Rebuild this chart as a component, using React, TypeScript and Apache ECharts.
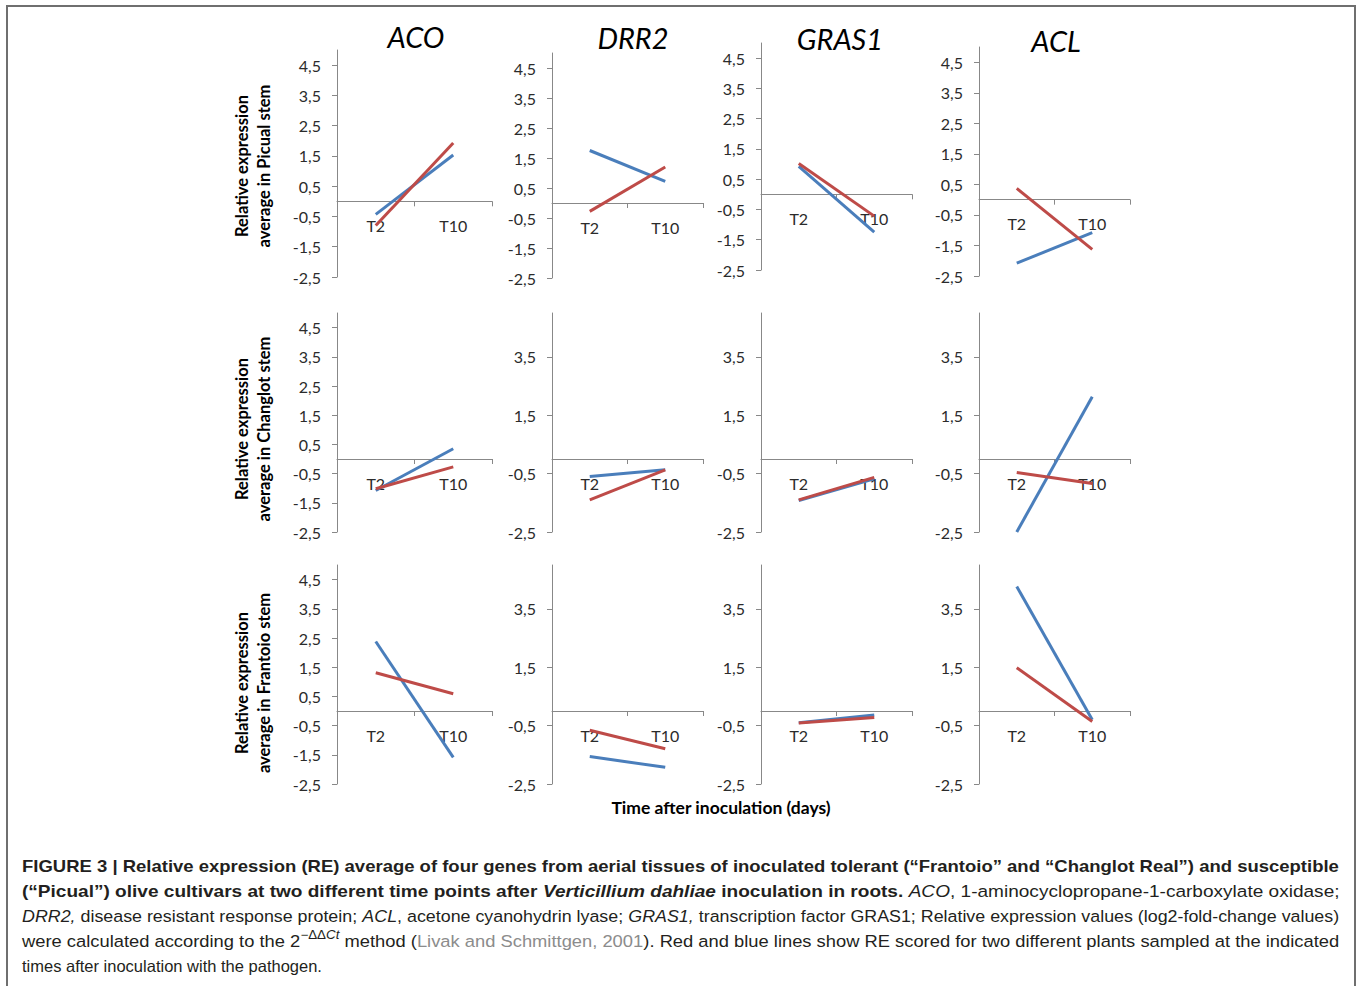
import React, { useEffect, useRef } from 'react';
import * as echarts from 'echarts';

// ---------- data ----------
const categories = ['T2', 'T10'];
const genes = ['ACO', 'DRR2', 'GRAS1', 'ACL'];
const cultivars = ['Picual', 'Changlot', 'Frantoio'];

// values [gene][T2, T10]
const bluePicual = [[-0.43, 1.53], [1.75, 0.72], [0.92, -1.25], [-2.08, -1.08]];
const redPicual = [[-0.8, 1.93], [-0.28, 1.2], [1.02, -0.72], [0.37, -1.63]];
const blueChanglot = [[-1.08, 0.35], [-0.6, -0.37], [-1.42, -0.68], [-2.5, 2.13]];
const redChanglot = [[-1.02, -0.27], [-1.4, -0.37], [-1.4, -0.63], [-0.46, -0.84]];
const blueFrantoio = [[2.38, -1.59], [-1.56, -1.93], [-0.4, -0.14], [4.26, -0.3]];
const redFrantoio = [[1.31, 0.59], [-0.66, -1.29], [-0.41, -0.22], [1.48, -0.36]];

const fineTicks = [-2.5, -1.5, -0.5, 0.5, 1.5, 2.5, 3.5, 4.5];
const coarseTicks = [-2.5, -0.5, 1.5, 3.5];
const yMin = -2.5;
const yMax = 5;

const xTitle = 'Time after inoculation (days)';
const yTitleLine1 = 'Relative expression';

// caption lines: [style, text]
const captionLines: [string, string][][] = [
  [['b', 'FIGURE 3 | Relative expression (RE) average of four genes from aerial tissues of inoculated tolerant (“Frantoio” and “Changlot Real”) and susceptible']],
  [
    ['b', '(“Picual”) olive cultivars at two different time points after '],
    ['bi', 'Verticillium dahliae'],
    ['b', ' inoculation in roots.'],
    ['n', ' '],
    ['i', 'ACO'],
    ['n', ', 1-aminocyclopropane-1-carboxylate oxidase;'],
  ],
  [
    ['i', 'DRR2,'],
    ['n', ' disease resistant response protein; '],
    ['i', 'ACL'],
    ['n', ', acetone cyanohydrin lyase; '],
    ['i', 'GRAS1,'],
    ['n', ' transcription factor GRAS1; Relative expression values (log2-fold-change values)'],
  ],
  [
    ['n', 'were calculated according to the 2'],
    ['sup', '−ΔΔ'],
    ['supi', 'Ct'],
    ['n', ' method ('],
    ['g', 'Livak and Schmittgen, 2001'],
    ['n', '). Red and blue lines show RE scored for two different plants sampled at the indicated'],
  ],
  [['n', 'times after inoculation with the pathogen.']],
];

// ---------- layout ----------
const colLeft = [337, 552, 761, 979];
const colRight = [492, 703, 912, 1130];
const rowTops = [[50, 53, 43, 47], [313, 313, 313, 313], [565, 565, 565, 565]];
const rowBottoms = [[277, 278, 270, 276], [532, 532, 532, 532], [784, 784, 784, 784]];
const titlePos = [[416, 36], [633, 37], [840, 38], [1056, 40]];
const yTitleCenterY = [166, 429, 683];

const BLUE = '#4A7EBB';
const RED = '#BE4B48';
const AXIS = '#888888';
const LABEL = '#2b2b2b';
const CHART_FONT = 'Lato, "Open Sans", sans-serif';
const CAP_FONT = '"Liberation Sans", Arial, sans-serif';
const CAP_SIZE = 16.5;

const capStyles: Record<string, any> = {
  n: { fontSize: CAP_SIZE, fontWeight: 'normal', fontStyle: 'normal', fill: '#231f20' },
  b: { fontSize: CAP_SIZE, fontWeight: 'bold', fontStyle: 'normal', fill: '#231f20' },
  bi: { fontSize: CAP_SIZE, fontWeight: 'bold', fontStyle: 'italic', fill: '#231f20' },
  i: { fontSize: CAP_SIZE, fontWeight: 'normal', fontStyle: 'italic', fill: '#231f20' },
  g: { fontSize: CAP_SIZE, fontWeight: 'normal', fontStyle: 'normal', fill: '#8c8c8c' },
  sup: { fontSize: 12, fontWeight: 'normal', fontStyle: 'normal', fill: '#231f20' },
  supi: { fontSize: 12, fontWeight: 'normal', fontStyle: 'italic', fill: '#231f20' },
};

function measureLine(segs: [string, string][]): number {
  const ctx = document.createElement('canvas').getContext('2d');
  if (!ctx) return 1300;
  let w = 0;
  for (const [s, t] of segs) {
    const st = capStyles[s];
    ctx.font = `${st.fontStyle} ${st.fontWeight} ${st.fontSize}px ${CAP_FONT}`;
    w += ctx.measureText(t).width;
  }
  return w;
}

function fmt(v: number) {
  return String(v).replace('.', ',');
}

function buildOption() {
  const grid: any[] = [];
  const xAxis: any[] = [];
  const yAxis: any[] = [];
  const series: any[] = [];
  const blues = [bluePicual, blueChanglot, blueFrantoio];
  const reds = [redPicual, redChanglot, redFrantoio];

  for (let r = 0; r < 3; r++) {
    for (let c = 0; c < 4; c++) {
      const idx = r * 4 + c;
      const h = rowBottoms[r][c] - rowTops[r][c];
      // pixel distance from the grid bottom up to value 0
      const zeroOffset = (h * (0 - yMin)) / (yMax - yMin);
      grid.push({
        left: colLeft[c],
        top: rowTops[r][c],
        width: colRight[c] - colLeft[c],
        height: h,
        containLabel: false,
      });
      xAxis.push({
        type: 'category',
        gridIndex: idx,
        data: categories,
        boundaryGap: true,
        position: 'bottom',
        offset: -zeroOffset,
        axisLine: { show: true, onZero: false, lineStyle: { color: AXIS, width: 1 } },
        axisTick: { show: true, alignWithLabel: false, interval: 0, length: 5, lineStyle: { color: AXIS } },
        axisLabel: { interval: 0, margin: 16, fontSize: 16, color: LABEL, fontFamily: CHART_FONT },
        splitLine: { show: false },
      });
      const ticks = r === 0 || c === 0 ? fineTicks : coarseTicks;
      yAxis.push({
        type: 'value',
        gridIndex: idx,
        min: yMin,
        max: yMax,
        axisLine: { show: true, lineStyle: { color: AXIS, width: 1 } },
        axisTick: { show: true, length: 5, customValues: ticks, lineStyle: { color: AXIS } },
        axisLabel: {
          customValues: ticks,
          margin: 16,
          fontSize: 16,
          color: LABEL,
          fontFamily: CHART_FONT,
          formatter: (v: number) => fmt(v),
        },
        splitLine: { show: false },
      });
      series.push({
        type: 'line',
        name: 'blue',
        xAxisIndex: idx,
        yAxisIndex: idx,
        data: blues[r][c],
        symbol: 'none',
        lineStyle: { color: BLUE, width: 3 },
        itemStyle: { color: BLUE },
        z: 3,
      });
      series.push({
        type: 'line',
        name: 'red',
        xAxisIndex: idx,
        yAxisIndex: idx,
        data: reds[r][c],
        symbol: 'none',
        lineStyle: { color: RED, width: 3 },
        itemStyle: { color: RED },
        z: 4,
      });
    }
  }

  const graphic: any[] = [];
  graphic.push({
    type: 'rect',
    shape: { x: 7, y: 6, width: 1348, height: 1010 },
    style: { fill: 'none', stroke: '#6f6f6f', lineWidth: 2 },
    silent: true,
  });
  genes.forEach((g, i) => {
    graphic.push({
      type: 'text',
      x: titlePos[i][0],
      y: titlePos[i][1],
      style: {
        text: g,
        font: `italic 29px ${CHART_FONT}`,
        fill: '#000',
        textAlign: 'center',
        textVerticalAlign: 'middle',
      },
    });
  });
  cultivars.forEach((cv, r) => {
    graphic.push({
      type: 'text',
      x: 253,
      y: yTitleCenterY[r],
      rotation: Math.PI / 2,
      style: {
        text: `${yTitleLine1}\naverage in ${cv} stem`,
        font: `bold 16.5px ${CHART_FONT}`,
        lineHeight: 22,
        fill: '#000',
        textAlign: 'center',
        textVerticalAlign: 'middle',
      },
    });
  });
  graphic.push({
    type: 'text',
    x: 721,
    y: 807,
    style: {
      text: xTitle,
      font: `bold 17.5px ${CHART_FONT}`,
      fill: '#000',
      textAlign: 'center',
      textVerticalAlign: 'middle',
    },
  });

  const rich: Record<string, any> = {};
  Object.keys(capStyles).forEach((k) => {
    const st = capStyles[k];
    rich[k] = {
      fontSize: st.fontSize,
      fontWeight: st.fontWeight,
      fontStyle: st.fontStyle,
      fontFamily: CAP_FONT,
      fill: st.fill,
      lineHeight: k.startsWith('sup') ? 12 : 24,
      verticalAlign: k.startsWith('sup') ? 'top' : 'middle',
    };
  });
  const targetW = 1318;
  const capY = [866, 891, 916, 941, 966];
  captionLines.forEach((segs, i) => {
    const w = measureLine(segs);
    const sx = i < 4 ? targetW / w : 300 / w;
    graphic.push({
      type: 'text',
      x: 22,
      y: capY[i],
      scaleX: sx,
      style: {
        text: segs.map(([s, t]) => `{${s}|${t}}`).join(''),
        rich,
        textAlign: 'left',
        textVerticalAlign: 'middle',
        fontFamily: CAP_FONT,
        fontSize: CAP_SIZE,
      },
    });
  });

  return {
    animation: false,
    backgroundColor: '#ffffff',
    grid,
    xAxis,
    yAxis,
    series,
    graphic,
  };
}

export default function App() {
  const ref = useRef<HTMLDivElement>(null);
  useEffect(() => {
    if (!ref.current) return;
    const chart = echarts.init(ref.current, null, { renderer: 'svg' });
    chart.setOption(buildOption());
    return () => chart.dispose();
  }, []);
  return (
    <div
      ref={ref}
      style={{ position: 'fixed', left: 0, top: 0, width: 1358, height: 986, background: '#fff' }}
    />
  );
}
